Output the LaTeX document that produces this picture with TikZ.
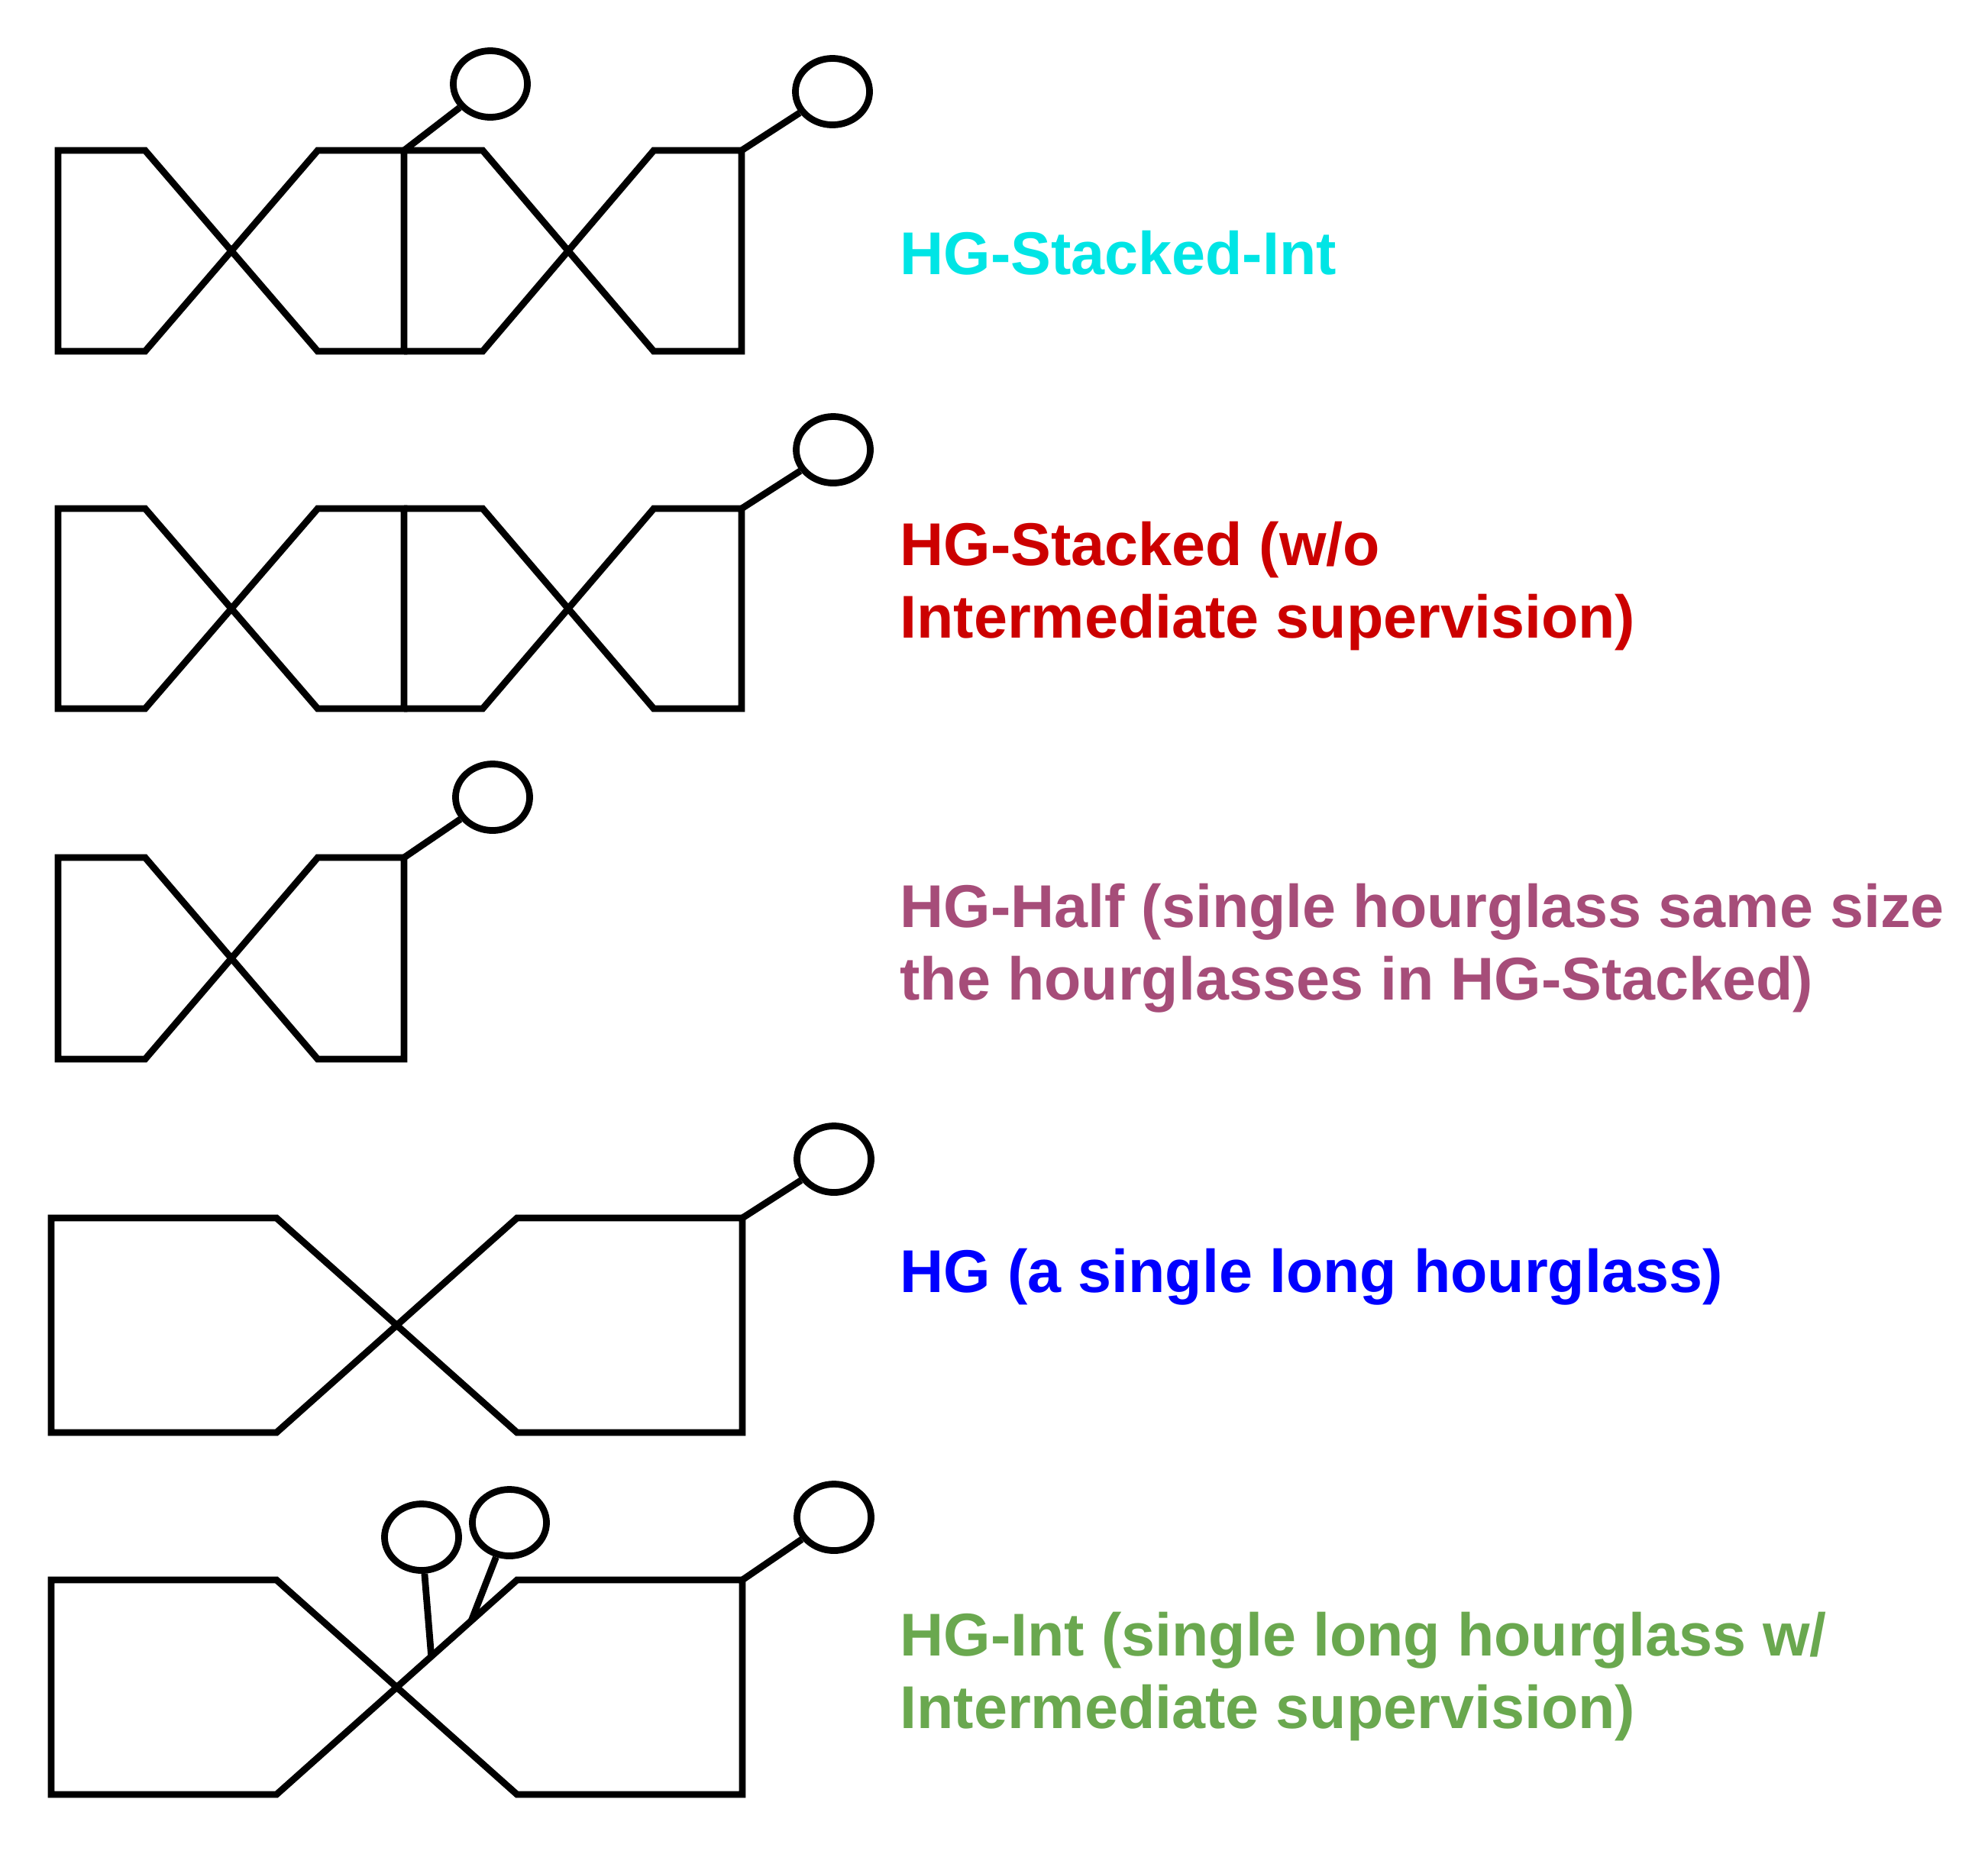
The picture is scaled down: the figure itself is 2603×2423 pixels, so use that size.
\documentclass[tikz,border=0pt]{standalone}
\usepackage{fontspec}
\setmainfont{Liberation Sans}
\usetikzlibrary{shapes.geometric,calc}
\definecolor{cCyan}{HTML}{00E5E5}
\definecolor{cRed}{HTML}{CC0000}
\definecolor{cMauve}{HTML}{A64D79}
\definecolor{cBlue}{HTML}{0000FF}
\definecolor{cGreen}{HTML}{6AA84F}
\begin{document}
\begin{tikzpicture}[x=0.01cm,y=-0.01cm,line width=2.5pt,
  hg/.style={line width=2.5pt,line join=miter},
  head/.style={ellipse,draw,line width=2.5pt,minimum width=0.97cm,minimum height=0.87cm,inner sep=0pt},
  lbl/.style={anchor=base west,inner sep=0pt,align=left,font=\fontsize{22.5}{27}\selectfont\bfseries}]
\useasboundingbox (0,0) rectangle (2603,2423);
% Row 1: HG-Stacked-Int
\draw[hg] (76,197) -- (190,197) -- (416,460) -- (529,460) -- (529,197) -- (416,197) -- (190,460) -- (76,460) -- cycle;
\draw[hg] (529,197) -- (632,197) -- (856,460) -- (971,460) -- (971,197) -- (856,197) -- (632,460) -- (529,460);
\coordinate (a1) at (529,197);
\coordinate (b1) at (971,197);
\node[head] (h1a) at (642,110) {};
\node[head] (h1b) at (1090,120) {};
\draw (a1) -- (h1a);
\draw (b1) -- (h1b);
\node[lbl,text=cCyan] (t1) at (1174,359) {HG-Stacked-Int};
% Row 2: HG-Stacked
\draw[hg] (76,666) -- (190,666) -- (416,928) -- (529,928) -- (529,666) -- (416,666) -- (190,928) -- (76,928) -- cycle;
\draw[hg] (529,666) -- (632,666) -- (856,928) -- (971,928) -- (971,666) -- (856,666) -- (632,928) -- (529,928);
\coordinate (b2) at (971,666);
\node[head] (h2) at (1091,589) {};
\draw (b2) -- (h2);
\node[lbl,text=cRed] (t2) at (1174,835) {HG-Stacked (w/o\\Intermediate supervision)};
% Row 3: HG-Half
\draw[hg] (76,1123) -- (190,1123) -- (416,1387) -- (529,1387) -- (529,1123) -- (416,1123) -- (190,1387) -- (76,1387) -- cycle;
\coordinate (b3) at (529,1123);
\node[head] (h3) at (645,1044) {};
\draw (b3) -- (h3);
\node[lbl,text=cMauve] (t3) at (1174,1309) {HG-Half (single hourglass same size\\the hourglasses in HG-Stacked)};
% Row 4: HG
\draw[hg] (67,1595) -- (362,1595) -- (677,1876) -- (972,1876) -- (972,1595) -- (677,1595) -- (362,1876) -- (67,1876) -- cycle;
\coordinate (b4) at (972,1595);
\node[head] (h4) at (1092,1518) {};
\draw (b4) -- (h4);
\node[lbl,text=cBlue] (t4) at (1174,1692) {HG (a single long hourglass)};
% Row 5: HG-Int
\draw[hg] (67,2069) -- (362,2069) -- (677,2350) -- (972,2350) -- (972,2069) -- (677,2069) -- (362,2350) -- (67,2350) -- cycle;
\coordinate (x5) at (519.5,2209.5);
\coordinate (tr5) at (677,2069);
\coordinate (i1) at ($(x5)!0.287!(tr5)$);
\coordinate (i2) at ($(x5)!0.62!(tr5)$);
\coordinate (b5) at (972,2069);
\node[head] (h5a) at (552,2013) {};
\node[head] (h5b) at (667,1994) {};
\node[head] (h5c) at (1092,1987) {};
\draw (i1) -- (h5a);
\draw (i2) -- (h5b);
\draw (b5) -- (h5c);
\node[lbl,text=cGreen] (t5) at (1174,2263) {HG-Int (single long hourglass w/\\Intermediate supervision)};
\end{tikzpicture}
\end{document}
